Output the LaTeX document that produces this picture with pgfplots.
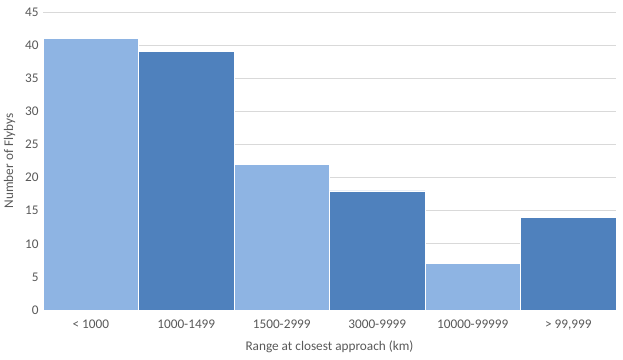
\documentclass[border=0pt]{standalone}
\usepackage{fontspec}
\setmainfont{Carlito}
\usepackage{pgfplots}
\pgfplotsset{compat=1.18}
\definecolor{lightbar}{HTML}{8EB4E3}
\definecolor{darkbar}{HTML}{4F81BD}
\definecolor{gridc}{HTML}{D9D9D9}
\definecolor{txt}{HTML}{595959}
\begin{document}
\begin{tikzpicture}[x=1bp,y=1bp]
\path[use as bounding box] (0,0) rectangle (623,359);
\begin{axis}[
  at={(43bp,49bp)}, anchor=south west,
  scale only axis, width=573bp, height=298bp,
  xmin=0, xmax=6, ymin=0, ymax=45,
  ytick={0,5,...,45},
  xtick={0.5,1.5,...,5.5},
  xticklabels={< 1000,1000-1499,1500-2999,3000-9999,10000-99999,> 99{,}999},
  ymajorgrids, grid style={gridc, line width=0.75pt},
  axis line style={draw=none},
  major tick length=0pt,
  tick label style={font=\fontsize{13.3}{15}\selectfont, text=txt},
  /pgf/number format/assume math mode=true,
  xticklabel style={yshift=-6bp},
  yticklabel style={xshift=-1bp},
  xlabel={Range at closest approach (km)},
  ylabel={Number of Flybys},
  label style={font=\fontsize{13.3}{15}\selectfont, text=txt},
  xlabel style={yshift=-4bp},
  ylabel style={yshift=3bp},
  ybar, bar shift=0pt, bar width=95.5bp,
  clip=false,
]
\addplot[fill=lightbar, draw=white, line width=0.6pt] coordinates {(0.5,41) (2.5,22) (4.5,7)};
\addplot[fill=darkbar, draw=white, line width=0.6pt] coordinates {(1.5,39) (3.5,18) (5.5,14)};
\end{axis}
\end{tikzpicture}
\end{document}
